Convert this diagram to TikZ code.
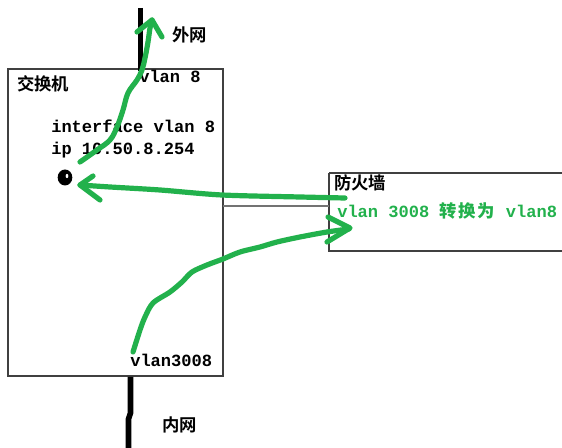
\documentclass[tikz,border=0pt]{standalone}
\usepackage{fontspec}
\usetikzlibrary{shapes.geometric}
\newfontfamily\monob{Liberation Mono}
\newfontfamily\cjkb{Noto Sans CJK SC Bold}
\definecolor{paintgreen}{RGB}{34,177,76}
\begin{document}
\begin{tikzpicture}[x=0.75pt,y=-0.75pt,
  box/.style={draw=black!75,line width=0.9pt},
  cable/.style={line width=4.2pt,black},
  hand/.style={paintgreen,line width=3.9pt,line cap=round,line join=round},
  mono/.style={inner sep=0pt,anchor=base west,font=\monob\bfseries\fontsize{12.8pt}{14pt}\selectfont},
  cn/.style={inner sep=0pt,anchor=west,font=\cjkb\fontsize{13pt}{14pt}\selectfont}]
\useasboundingbox[fill=white] (0,0) rectangle (562,448);
% boxes
\draw[box] (8,69) rectangle (223,376);
\draw[box] (329,173) -- (565,173) (329,173) -- (329,251) -- (565,251);
\coordinate (swR) at (223,206);
\coordinate (fwL) at (329,206);
\draw[black!55,line width=0.9pt] (swR) -- (fwL);
% cables
\coordinate (topA) at (140.5,8);
\coordinate (topB) at (140.5,71);
\draw[cable] (topA) -- (topB);
\coordinate (botA) at (130.5,377);
\coordinate (botB) at (128.5,448);
\draw[cable] (botA) -- (130.5,413) -- (128.5,419) -- (botB);
% texts
\node[cn] (wai) at (172,35) {外网};
\node[cn] (sw) at (17,83.5) {交换机};
\node[cn] (fw) at (334,182.5) {防火墙};
\node[cn] (nei) at (162,425) {内网};
\node[mono] (v8) at (139,83) {vlan 8};
\node[mono] (if) at (51,133) {interface vlan 8};
\node[mono] (ip) at (51,155) {ip 10.50.8.254};
\node[mono] (v3008) at (130,367) {vlan3008};
\node[inner sep=0pt,anchor=base west,text=paintgreen] (conv) at (337,218)
  {\monob\bfseries\fontsize{12.8pt}{14pt}\selectfont vlan 3008 {\cjkb\fontsize{13pt}{14pt}\selectfont 转\hspace{1pt}换\hspace{1pt}为}\hspace{1pt} vlan8};
% dot
\node[ellipse,fill=black,minimum width=11pt,minimum height=12pt,inner sep=0pt] (dot) at (65,177.5) {};
\fill[white] (67,176) ellipse (1pt and 1.6pt);
% green arrow 1 (up to outside)
\draw[hand] plot[smooth,tension=0.6] coordinates {(80,162) (97,150) (110,140) (117,127) (123,110) (128,93) (137,80) (142,70) (145,58) (148,42) (150,28) (152,20)};
\draw[hand] (137,32) -- (152,20) -- (162,37);
% green arrow 2 (firewall to dot)
\draw[hand] plot[smooth,tension=0.5] coordinates {(345,198) (300,197) (222,195) (160,190) (110,187) (80,185)};
\draw[hand] (93,176) -- (80,185) -- (100,200);
% green arrow 3 (inside to firewall)
\draw[hand] plot[smooth,tension=0.5] coordinates {(133,352) (140,330) (145,317) (153,303) (170,292) (182,282) (192,272) (207,265) (223,259) (240,252) (260,247) (277,242) (300,237) (327,232) (349,229)};
\draw[hand] (328,217) -- (350,228) -- (327,242);
\end{tikzpicture}
\end{document}
